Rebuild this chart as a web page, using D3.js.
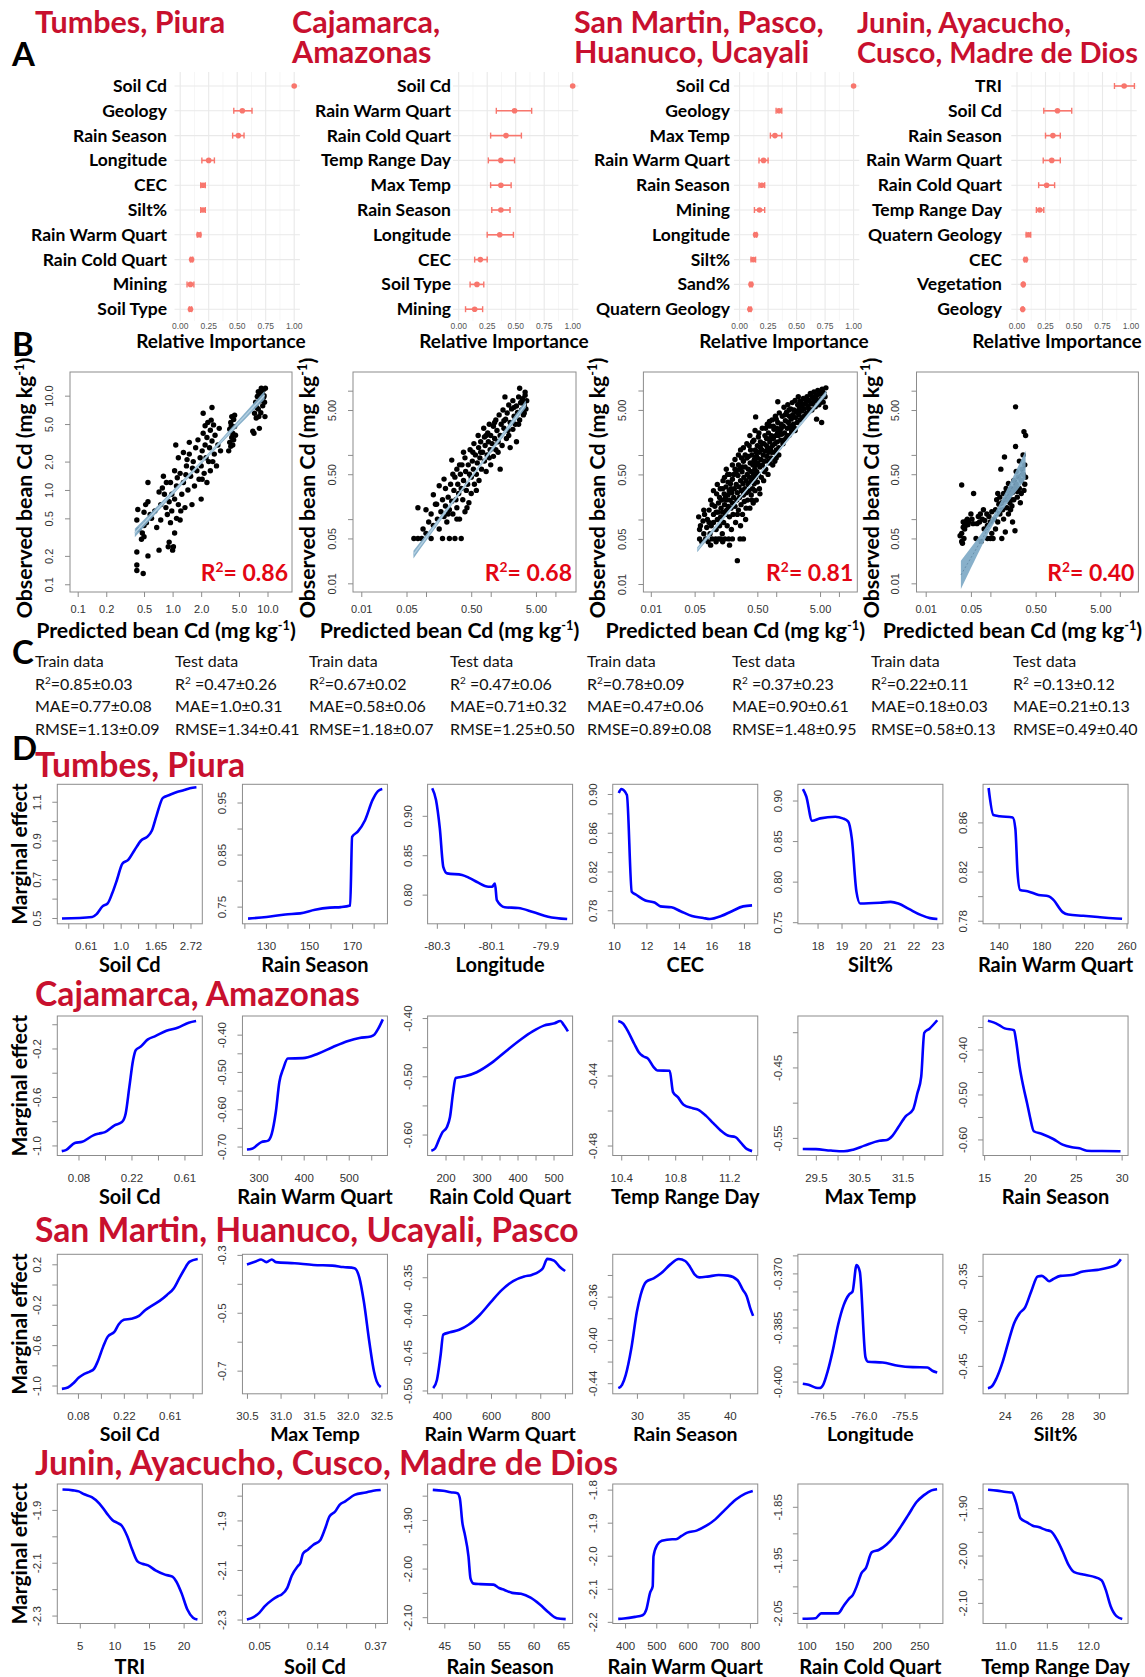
<!DOCTYPE html>
<html>
<head>
<meta charset="utf-8">
<script src="https://cdn.jsdelivr.net/npm/d3@7"></script>
<style>
html, body { margin: 0; padding: 0; background: #fff; }
svg { display: block; }
</style>
</head>
<body>
<svg id="fig" width="1145" height="1677"></svg>
<script>
// ---------- A: relative importance ----------
const titlesA = [["Tumbes, Piura"], ["Cajamarca,", "Amazonas"], ["San Martin, Pasco,", "Huanuco, Ucayali"], ["Junin, Ayacucho,", "Cusco, Madre de Dios"]];

const varsA1 = ["Soil Cd", "Geology", "Rain Season", "Longitude", "CEC", "Silt%", "Rain Warm Quart", "Rain Cold Quart", "Mining", "Soil Type"];
const meanA1 = [1.00, 0.545, 0.51, 0.25, 0.20, 0.20, 0.165, 0.10, 0.09, 0.09];
const loA1   = [1.00, 0.47, 0.46, 0.19, 0.18, 0.18, 0.15, 0.09, 0.06, 0.08];
const hiA1   = [1.00, 0.63, 0.56, 0.30, 0.22, 0.22, 0.18, 0.11, 0.12, 0.10];

const varsA2 = ["Soil Cd", "Rain Warm Quart", "Rain Cold Quart", "Temp Range Day", "Max Temp", "Rain Season", "Longitude", "CEC", "Soil Type", "Mining"];
const meanA2 = [1.00, 0.49, 0.415, 0.37, 0.37, 0.37, 0.36, 0.19, 0.16, 0.14];
const loA2   = [1.00, 0.33, 0.28, 0.26, 0.28, 0.29, 0.25, 0.14, 0.10, 0.06];
const hiA2   = [1.00, 0.64, 0.55, 0.49, 0.46, 0.45, 0.48, 0.25, 0.22, 0.21];

const varsA3 = ["Soil Cd", "Geology", "Max Temp", "Rain Warm Quart", "Rain Season", "Mining", "Longitude", "Silt%", "Sand%", "Quatern Geology"];
const meanA3 = [1.00, 0.345, 0.31, 0.21, 0.195, 0.175, 0.14, 0.12, 0.10, 0.09];
const loA3   = [1.00, 0.32, 0.27, 0.17, 0.17, 0.13, 0.13, 0.10, 0.09, 0.08];
const hiA3   = [1.00, 0.37, 0.37, 0.25, 0.22, 0.22, 0.15, 0.14, 0.11, 0.10];

const varsA4 = ["TRI", "Soil Cd", "Rain Season", "Rain Warm Quart", "Rain Cold Quart", "Temp Range Day", "Quatern Geology", "CEC", "Vegetation", "Geology"];
const meanA4 = [0.94, 0.355, 0.315, 0.305, 0.26, 0.20, 0.10, 0.075, 0.055, 0.05];
const loA4   = [0.855, 0.235, 0.25, 0.23, 0.19, 0.17, 0.08, 0.065, 0.05, 0.045];
const hiA4   = [1.03, 0.48, 0.38, 0.38, 0.33, 0.235, 0.12, 0.085, 0.06, 0.055];

const ticksA = [0, 0.25, 0.5, 0.75, 1];
const tickLabelsA = ["0.00", "0.25", "0.50", "0.75", "1.00"];

// ---------- B: observed vs predicted ----------
const ptsB1 = [[0.42,0.14],[0.42,0.16],[0.49,0.13],[0.42,0.22],[0.55,0.2],[0.42,0.48],[0.43,0.62],[0.44,0.38],[0.47,0.3],[0.5,0.32],[0.5,0.58],[0.52,0.7],[0.53,0.45],[0.55,0.75],[0.55,1.2],[0.5,0.42],[0.58,0.55],[0.6,0.5],[0.48,0.35],
[0.65,0.6],[0.68,0.4],[0.72,0.23],[0.75,0.48],[0.75,0.7],[0.78,1.05],[0.8,1.4],[0.82,0.9],[0.85,0.65],[0.88,0.55],[0.9,0.25],[0.92,0.75],[0.95,0.45],[0.95,1.2],[0.98,0.6],[0.98,0.9],[0.92,0.28],[0.86,1.2],[0.72,0.95],
[1.0,0.23],[1.02,0.25],[1.05,0.35],[1.05,0.8],[1.05,1.6],[1.08,3.0],[1.1,0.5],[1.1,1.1],[1.15,0.7],[1.15,2.2],[1.2,0.48],[1.2,1.5],[1.25,0.9],[1.3,2.5],[1.3,1.2],[1.35,0.65],[1.4,1.8],[1.45,1.0],[1.5,2.4],[1.5,3.2],[1.55,1.4],[1.6,0.7],[1.65,2.0],[1.7,1.1],[1.75,2.8],[1.8,1.6],[1.85,3.4],[1.9,1.3],[1.95,2.2],[1.12,1.35],[1.22,0.6],[1.38,1.45],[1.62,1.7],[1.42,2.1],
[2.0,0.8],[2.0,1.8],[2.05,2.6],[2.1,4.0],[2.1,6.5],[2.15,1.5],[2.2,3.0],[2.2,4.8],[2.25,2.2],[2.3,1.2],[2.3,3.6],[2.35,5.2],[2.4,2.0],[2.45,2.8],[2.5,1.6],[2.5,4.3],[2.6,3.3],[2.6,7.5],[2.7,4.9],[2.75,2.4],[2.8,3.8],[2.9,1.8],[3.0,3.0],[3.1,4.5],[3.2,2.6],[2.55,5.5],[2.05,1.3],[2.65,2.0],
[3.9,2.6],[4.0,3.2],[4.0,4.4],[4.1,5.2],[4.1,2.9],[4.2,3.6],[4.2,6.0],[4.3,4.0],[4.3,3.0],[4.4,5.6],[4.4,3.4],[4.5,4.7],[4.5,6.2],[4.6,3.8],[4.15,4.8],
[7.0,4.2],[7.2,4.0],[7.3,6.5],[7.5,8.5],[7.6,5.8],[7.8,9.8],[8.0,7.2],[8.0,11],[8.2,4.5],[8.3,8.8],[8.4,10.5],[8.5,6.6],[8.6,12],[8.8,9.2],[8.9,7.8],[9.0,11.5],[9.2,10],[9.3,8.5],[9.5,12],[9.4,6.0],[8.1,6.0],[7.7,7.5],[8.7,10.8],[9.1,9.6]];

const ptsB2 = [[0.065,0.05],[0.075,0.05],[0.086,0.05],[0.075,0.15],[0.09,0.07],[0.1,0.06],[0.11,0.09],[0.12,0.05],[0.12,0.12],[0.13,0.08],[0.14,0.17],[0.146,0.17],[0.15,0.1],[0.16,0.07],[0.17,0.13],[0.18,0.05],[0.18,0.2],[0.19,0.11],[0.2,0.16],[0.2,0.3],[0.21,0.09],[0.22,0.22],[0.23,0.05],[0.23,0.14],[0.24,0.35],[0.25,0.83],[0.25,0.19],[0.26,0.12],[0.27,0.28],[0.28,0.05],[0.28,0.45],[0.29,0.2],[0.3,0.15],[0.3,0.6],[0.31,0.35],[0.32,0.25],[0.33,0.1],[0.34,0.5],[0.35,0.05],[0.35,0.3],[0.36,0.7],[0.37,0.2],[0.38,0.4],[0.4,0.13],[0.4,0.9],[0.41,0.55],[0.42,0.28],[0.44,0.35],[0.45,0.7],[0.46,0.18],[0.48,1.2],[0.5,0.45],[0.5,0.25],[0.52,0.8],[0.54,0.6],[0.55,1.5],[0.56,0.35],[0.58,1.0],[0.6,0.5],[0.62,0.75],[0.64,2.0],[0.65,1.3],[0.66,0.4],[0.68,0.9],[0.7,1.6],[0.72,0.6],[0.75,1.1],[0.78,2.6],[0.8,0.8],[0.8,1.9],[0.82,1.4],[0.85,0.55],[0.88,1.0],[0.9,2.2],[0.92,1.6],[0.95,3.0],[0.98,1.2],[1.0,0.7],[1.0,2.0],[1.05,1.5],[1.1,2.8],[1.1,0.95],[1.15,1.8],[1.2,3.5],[1.2,1.2],[1.25,2.4],[1.3,1.6],[1.35,4.2],[1.4,0.6],[1.4,2.0],[1.45,3.0],[1.5,1.4],[1.55,5.0],[1.6,2.6],[1.66,8.0],[1.7,3.6],[1.75,1.8],[1.8,4.5],[1.85,2.4],[1.9,6.0],[2.0,3.2],[2.0,1.3],[2.1,5.2],[2.2,2.5],[2.2,7.0],[2.3,4.0],[2.4,3.0],[2.5,5.8],[2.5,1.6],[2.6,4.6],[2.7,8.0],[2.8,10.9],[2.8,3.5],[2.9,6.5],[3.0,5.0],[3.1,7.5],[3.2,4.2],[3.3,6.0],[3.4,8.5],[3.5,5.2],[3.6,7.0],[3.4,9.5],
[0.1,0.14],[0.13,0.24],[0.16,0.33],[0.19,0.42],[0.22,0.12],[0.26,0.5],[0.3,0.1],[0.33,0.7],[0.38,1.1],[0.43,0.15],[0.47,0.5],[0.53,1.1],[0.6,0.28],[0.7,1.1],[0.85,2.0],[0.95,0.9],[1.15,3.2],[1.3,1.1],[1.6,3.4],[1.9,2.0],[2.3,5.5],[2.7,3.0],[3.0,6.6],[3.3,4.5]];

const ptsB3 = [[0.058,0.11],[0.06,0.05],[0.062,0.08],[0.065,0.045],[0.068,0.095],[0.07,0.06],[0.072,0.12],[0.075,0.05],[0.078,0.075],
[0.08,0.1],[0.082,0.045],[0.085,0.14],[0.088,0.06],[0.09,0.2],[0.092,0.08],[0.095,0.05],[0.1,0.12],[0.1,0.09],[0.105,0.16],[0.108,0.05],[0.11,0.07],[0.112,0.25],[0.115,0.1],[0.118,0.13],[0.12,0.05],[0.12,0.18],
[0.125,0.08],[0.128,0.3],[0.13,0.11],[0.132,0.15],[0.135,0.2],[0.138,0.06],[0.14,0.13],[0.142,0.4],[0.145,0.09],[0.148,0.25],[0.15,0.17],[0.152,0.05],[0.155,0.12],[0.158,0.32],[0.16,0.2],[0.162,0.14],[0.165,0.08],[0.168,0.5],[0.17,0.24],[0.172,0.16],[0.175,0.05],[0.178,0.28],[0.18,0.11],[0.183,0.2],[0.186,0.36],[0.19,0.15],[0.193,0.07],[0.196,0.26],[0.2,0.18],
[0.2,0.42],[0.205,0.12],[0.21,0.22],[0.215,0.3],[0.22,0.16],[0.22,0.6],[0.225,0.09],[0.23,0.35],[0.235,0.2],[0.24,0.023],[0.24,0.26],[0.245,0.48],[0.25,0.14],[0.25,0.7],[0.255,0.32],[0.26,0.22],[0.265,0.05],[0.27,1.2],[0.27,0.4],[0.275,0.17],[0.28,0.28],[0.285,0.55],[0.29,0.12],[0.295,0.36],[0.3,0.24],[0.3,0.8],[0.305,0.45],[0.31,0.19],[0.315,0.3],[0.32,0.65],[0.325,0.1],[0.33,0.4],[0.335,0.26],[0.34,0.9],[0.345,0.5],[0.35,0.2],
[0.355,0.35],[0.36,0.6],[0.365,0.28],[0.37,1.4],[0.375,0.45],[0.38,0.15],[0.385,0.75],[0.39,0.38],[0.4,0.55],[0.4,0.24],[0.41,1.0],[0.415,0.42],[0.42,0.3],[0.425,0.7],[0.43,0.18],[0.435,0.5],[0.44,1.7],[0.445,0.36],[0.45,0.85],[0.455,0.6],[0.46,0.28],[0.465,1.2],[0.47,3.9],[0.47,0.45],[0.475,0.7],[0.48,0.2],[0.485,0.95],[0.49,0.55],[0.5,1.4],[0.5,0.38],[0.51,0.75],[0.52,0.5],[0.53,2.2],[0.535,1.1],[0.54,0.3],[0.55,0.65],[0.56,1.6],[0.57,0.85],[0.58,0.45],[0.59,1.2],[0.6,2.6],
[0.6,0.7],[0.62,1.0],[0.63,0.4],[0.64,1.5],[0.65,0.8],[0.66,2.0],[0.67,1.15],[0.68,0.6],[0.7,1.8],[0.71,0.95],[0.72,3.0],[0.73,1.3],[0.74,0.5],[0.75,2.2],[0.76,1.1],[0.78,0.75],[0.79,1.6],[0.8,2.8],[0.81,1.25],[0.83,0.9],[0.84,2.0],[0.86,3.5],[0.87,1.4],[0.88,0.7],[0.9,1.8],[0.92,2.5],[0.93,1.1],[0.95,1.5],[0.97,4.0],[0.98,2.0],[1.0,1.2],[1.0,0.9],[1.02,2.6],[1.04,1.6],[1.06,6.7],[1.06,3.2],[1.08,2.0],[1.1,1.3],[1.12,4.5],[1.15,2.4],[1.18,1.7],[1.2,3.0],
[1.22,2.1],[1.25,4.0],[1.28,1.5],[1.3,2.8],[1.33,5.5],[1.36,2.2],[1.4,3.4],[1.43,1.8],[1.46,4.6],[1.5,2.6],[1.53,6.0],[1.56,3.2],[1.6,2.0],[1.63,4.0],[1.66,2.8],[1.7,5.2],[1.73,3.6],[1.76,2.3],[1.8,6.5],[1.84,4.2],[1.88,3.0],[1.92,5.0],[1.96,2.6],[2.0,7.0],[2.05,3.8],[2.1,4.6],[2.15,3.2],[2.2,6.0],[2.25,8.0],[2.3,4.2],[2.35,5.5],[2.4,3.5],[2.5,6.5],[2.55,4.8],[2.6,3.8],[2.7,7.5],[2.8,5.2],[2.9,6.2],[3.0,4.4],
[3.1,8.0],[3.2,5.8],[3.3,7.0],[3.4,4.8],[3.5,9.0],[3.6,6.2],[3.7,5.0],[3.8,7.8],[3.9,6.6],[4.0,9.5],[4.2,5.6],[4.3,8.2],[4.5,7.0],[4.6,10.0],[4.8,6.0],[5.0,8.8],[5.2,7.4],[5.4,10.5],[5.6,6.6],[5.8,9.0],[6.0,8.0],[6.2,11.0],[6.1,5.5],[5.3,3.2],[4.4,3.6],
[0.07,0.14],[0.085,0.09],[0.095,0.17],[0.1,0.28],[0.11,0.13],[0.115,0.35],[0.125,0.22],[0.13,0.05],[0.14,0.3],[0.15,0.45],[0.155,0.22],[0.16,0.6],[0.17,0.38],[0.18,0.5],[0.19,0.3],[0.2,0.7],[0.21,0.5],[0.22,0.85],[0.23,0.55],[0.24,0.12],[0.25,1.0],[0.26,0.6],[0.27,0.08],[0.28,0.9],[0.29,0.65],[0.3,1.3],[0.32,1.0],[0.33,0.15],[0.34,1.5],[0.36,0.95],[0.38,2.0],[0.39,1.2],[0.41,0.2],[0.42,1.6],[0.44,0.8],[0.46,2.4],[0.48,1.1],[0.5,0.9],[0.52,1.9],[0.55,0.25],[0.56,1.3],[0.6,1.5],[0.65,0.55],[0.68,2.6],[0.7,1.4],[0.75,0.8],[0.78,3.3],[0.8,1.8],[0.85,1.1],[0.9,2.8],[0.95,0.8],[1.0,3.6],[1.05,2.2],[1.1,1.0],[1.2,2.6],[1.3,1.7],[1.4,4.2],[1.5,2.0],[1.6,5.0],[1.7,2.6],[1.8,3.8],[2.0,2.4],[2.2,4.8],[2.4,6.8],[2.6,5.8],[2.8,4.0],[3.0,7.0],[3.3,5.2],[3.6,8.5],[4.0,7.2],[4.5,8.5],[5.0,6.5],[5.5,9.5],[0.06,0.07],[0.09,0.04],[0.11,0.045],[0.14,0.045],[0.18,0.04],[0.2,0.05],[0.3,0.05]];

const ptsB4 = [[0.034,0.055],[0.036,0.045],[0.037,0.042],[0.038,0.075],[0.038,0.09],[0.04,0.085],[0.04,0.07],[0.036,0.34],[0.042,0.08],[0.043,0.095],[0.044,0.1],[0.045,0.082],[0.046,0.09],[0.055,0.25],[0.05,0.12],[0.052,0.1],[0.054,0.085],[0.039,0.05],[0.036,0.06],
[0.06,0.05],[0.062,0.085],[0.065,0.11],[0.068,0.09],[0.07,0.12],[0.072,0.045],[0.075,0.1],[0.078,0.14],[0.08,0.07],[0.082,0.095],[0.09,0.05],[0.088,0.12],[0.09,0.08],[0.1,0.05],[0.095,0.11],[0.1,0.09],[0.105,0.06],[0.105,0.13],[0.11,0.05],[0.115,0.1],[0.12,0.07],
[0.12,0.14],[0.125,0.2],[0.13,0.09],[0.13,0.25],[0.135,0.17],[0.14,0.12],[0.14,0.22],[0.145,0.6],[0.15,0.18],[0.15,0.05],[0.155,0.14],[0.16,0.25],[0.16,0.1],[0.165,0.93],[0.17,0.2],[0.17,0.063],[0.175,0.3],[0.18,0.15],[0.18,0.28],[0.185,0.22],[0.19,0.12],[0.19,0.36],[0.2,0.18],[0.2,0.25],[0.205,0.14],[0.21,0.3],[0.21,0.2],[0.215,0.16],[0.22,0.09],[0.22,0.26],
[0.23,0.4],[0.23,0.2],[0.24,0.3],[0.24,0.066],[0.245,5.6],[0.245,1.35],[0.25,0.55],[0.25,0.35],[0.26,0.22],[0.26,0.27],[0.27,0.45],[0.28,0.8],[0.28,0.3],[0.29,0.18],[0.3,0.4],[0.3,0.25],[0.31,0.6],[0.32,1.0],[0.32,0.5],[0.33,2.3],[0.34,0.35],[0.35,2.0],[0.35,0.45],[0.34,0.7],[0.33,0.28]];

// fitted line ends (predicted, observed) and CI half widths in decades [middle, ends]
const fitPredB = [[0.4, 9.3], [0.064, 3.5], [0.055, 6.3], [0.035, 0.35]];
const fitObsB  = [[0.35, 10.1], [0.028, 6.2], [0.034, 9.2], [0.0135, 0.70]];
const fitCiB   = [[0.018, 0.045], [0.025, 0.06], [0.015, 0.04], [0.07, 0.22]];
const r2B = ["0.86", "0.68", "0.81", "0.40"];

const ticksB1 = [0.1, 0.2, 0.5, 1, 2, 5, 10];
const tickLabelsB1 = ["0.1", "0.2", "0.5", "1.0", "2.0", "5.0", "10.0"];
const ticksB = [0.01, 0.05, 0.1, 0.5, 1, 5, 10];
const tickLabelsB = ["0.01", "0.05", "", "0.50", "", "5.00", ""];

// ---------- C: model statistics ----------
const headC = ["Train data", "Test data", "Train data", "Test data", "Train data", "Test data", "Train data", "Test data"];
const r2C   = ["=0.85±0.03", " =0.47±0.26", "=0.67±0.02", " =0.47±0.06", "=0.78±0.09", " =0.37±0.23", "=0.22±0.11", " =0.13±0.12"];
const maeC  = ["0.77±0.08", "1.0±0.31", "0.58±0.06", "0.71±0.32", "0.47±0.06", "0.90±0.61", "0.18±0.03", "0.21±0.13"];
const rmseC = ["1.13±0.09", "1.34±0.41", "1.18±0.07", "1.25±0.50", "0.89±0.08", "1.48±0.95", "0.58±0.13", "0.49±0.40"];

// ---------- D: marginal effects ----------
const rowTitlesD = ["Tumbes, Piura", "Cajamarca, Amazonas", "San Martin, Huanuco, Ucayali, Pasco", "Junin, Ayacucho, Cusco, Madre de Dios"];
const namesD = [
  ["Soil Cd", "Rain Season", "Longitude", "CEC", "Silt%", "Rain Warm Quart"],
  ["Soil Cd", "Rain Warm Quart", "Rain Cold Quart", "Temp Range Day", "Max Temp", "Rain Season"],
  ["Soil Cd", "Max Temp", "Rain Warm Quart", "Rain Season", "Longitude", "Silt%"],
  ["TRI", "Soil Cd", "Rain Season", "Rain Warm Quart", "Rain Cold Quart", "Temp Range Day"]
];

// Soil Cd curves use ln(Soil Cd) on x
const r1SoilCd = [[-0.84,0.497],[-0.407,0.505],[-0.344,0.52],[-0.26,0.56],[-0.186,0.575],[-0.118,0.63],[-0.05,0.70],[0.024,0.78],[0.108,0.80],[0.198,0.85],[0.293,0.90],[0.383,0.92],[0.446,0.95],[0.515,1.03],[0.605,1.12],[0.70,1.135],[0.806,1.15],[0.91,1.16],[0.99,1.17],[1.085,1.175]];
const r1RainSeason = [[121.7,0.727],[130.3,0.730],[139,0.735],[145.9,0.737],[152.8,0.744],[159.7,0.748],[164.8,0.749],[169.1,0.752],[170,0.884],[172.6,0.894],[176,0.916],[179.5,0.955],[182,0.972],[184,0.976]];
const r1Longitude = [[-80.317,0.935],[-80.303,0.92],[-80.289,0.884],[-80.276,0.835],[-80.262,0.827],[-80.207,0.825],[-80.179,0.821],[-80.152,0.816],[-80.11,0.81],[-80.097,0.81],[-80.086,0.814],[-80.079,0.793],[-80.05,0.784],[-80.0,0.783],[-79.946,0.778],[-79.89,0.772],[-79.82,0.769]];
const r1CEC = [[10.3,0.901],[10.46,0.905],[10.8,0.899],[11.1,0.799],[11.37,0.796],[11.94,0.79],[12.5,0.788],[12.86,0.784],[13.54,0.783],[14.1,0.779],[14.8,0.774],[15.5,0.772],[15.9,0.771],[16.6,0.774],[17.26,0.779],[17.95,0.784],[18.5,0.785]];
const r1Silt = [[17.39,0.914],[17.53,0.905],[17.77,0.875],[18.11,0.878],[18.74,0.880],[19.05,0.878],[19.28,0.874],[19.43,0.853],[19.62,0.788],[19.78,0.773],[20.6,0.774],[21.05,0.775],[21.37,0.773],[21.83,0.766],[22.3,0.759],[22.69,0.755],[23.0,0.754]];
const r1RWQ = [[130.6,0.888],[135.1,0.866],[141,0.865],[153.2,0.864],[155.7,0.855],[157.7,0.82],[160.2,0.805],[167.1,0.804],[177.5,0.801],[186.9,0.80],[191.4,0.797],[200.1,0.787],[205.3,0.785],[219.3,0.784],[233.2,0.783],[247.1,0.782],[255.8,0.7816]];

const r2SoilCd = [[-2.816,-1.047],[-2.73,-1.036],[-2.57,-0.98],[-2.43,-0.97],[-2.22,-0.917],[-2.12,-0.903],[-2.0,-0.89],[-1.82,-0.834],[-1.68,-0.807],[-1.61,-0.738],[-1.54,-0.517],[-1.47,-0.297],[-1.42,-0.214],[-1.33,-0.186],[-1.19,-0.125],[-1.05,-0.098],[-0.84,-0.054],[-0.63,-0.029],[-0.42,0.012],[-0.28,0.026]];
const r2RWQ = [[274,-0.708],[285,-0.706],[306,-0.688],[321,-0.684],[329,-0.666],[338,-0.608],[346,-0.527],[354.6,-0.491],[364.6,-0.464],[398,-0.463],[431.6,-0.451],[465,-0.433],[498.7,-0.417],[523.8,-0.409],[549,-0.405],[557,-0.40],[565.6,-0.384],[575.7,-0.359]];
const r2RCQ = [[160.6,-0.628],[171,-0.624],[181,-0.61],[191.7,-0.596],[204,-0.587],[212.4,-0.57],[220.8,-0.529],[228,-0.503],[254,-0.50],[286.5,-0.493],[328,-0.477],[369.5,-0.456],[411,-0.436],[442,-0.423],[473,-0.413],[503,-0.409],[519,-0.405],[529.6,-0.413],[540,-0.423]];
const r2TRD = [[10.378,-0.4089],[10.414,-0.4104],[10.453,-0.4152],[10.497,-0.422],[10.53,-0.4267],[10.563,-0.429],[10.6,-0.4305],[10.64,-0.4352],[10.668,-0.4371],[10.759,-0.4373],[10.784,-0.4495],[10.82,-0.4524],[10.862,-0.4567],[10.93,-0.4587],[10.972,-0.4596],[11.027,-0.4629],[11.082,-0.4672],[11.137,-0.4714],[11.19,-0.4743],[11.247,-0.4752],[11.288,-0.4785],[11.33,-0.4819],[11.37,-0.4832]];
const r2MaxTemp = [[29.198,-0.5657],[29.5,-0.566],[29.845,-0.568],[30.147,-0.569],[30.36,-0.5667],[30.62,-0.561],[30.966,-0.554],[31.14,-0.5529],[31.27,-0.5467],[31.4,-0.535],[31.57,-0.5195],[31.74,-0.51],[31.84,-0.487],[31.93,-0.463],[32.0,-0.401],[32.12,-0.395],[32.3,-0.383]];
const r2RainSeason = [[15.41,-0.336],[16.02,-0.3397],[16.63,-0.3457],[17.24,-0.353],[18.26,-0.357],[18.47,-0.379],[18.87,-0.4387],[19.28,-0.483],[19.69,-0.52],[20.0,-0.55],[20.42,-0.5818],[21.32,-0.5877],[22.54,-0.599],[23.56,-0.6115],[24.58,-0.6175],[25.4,-0.6197],[26.2,-0.625],[27.85,-0.6257],[29.88,-0.6264]];

const r3SoilCd = [[-2.85,-1.033],[-2.72,-1.02],[-2.6,-0.977],[-2.48,-0.921],[-2.36,-0.885],[-2.24,-0.862],[-2.15,-0.835],[-2.07,-0.763],[-1.95,-0.615],[-1.85,-0.516],[-1.70,-0.466],[-1.61,-0.393],[-1.5,-0.35],[-1.34,-0.339],[-1.17,-0.311],[-1.03,-0.252],[-0.885,-0.209],[-0.72,-0.162],[-0.56,-0.103],[-0.41,-0.037],[-0.31,0.045],[-0.19,0.144],[-0.065,0.226],[0.11,0.253]];
const r3MaxTemp = [[30.5,-0.333],[30.63,-0.323],[30.71,-0.316],[30.79,-0.325],[30.87,-0.316],[30.93,-0.325],[31.21,-0.329],[31.49,-0.335],[31.77,-0.337],[31.93,-0.342],[32.1,-0.346],[32.17,-0.377],[32.24,-0.463],[32.32,-0.6],[32.39,-0.703],[32.43,-0.737],[32.49,-0.757]];
const r3RWQ = [[365.3,-0.497],[380.4,-0.486],[395.5,-0.453],[406,-0.426],[433.2,-0.423],[471,-0.4196],[508.7,-0.413],[554,-0.40],[599.2,-0.383],[644.5,-0.3668],[689.8,-0.355],[735,-0.349],[765.3,-0.3469],[795.5,-0.3425],[810.6,-0.338],[828.7,-0.3257],[855.8,-0.328],[878.5,-0.336],[901.1,-0.3417]];
const r3RainSeason = [[28.0,-0.4446],[28.4,-0.4415],[28.8,-0.4323],[29.4,-0.4077],[30.0,-0.3738],[30.4,-0.3585],[31.0,-0.3462],[31.8,-0.3431],[32.6,-0.3385],[33.6,-0.3302],[34.5,-0.3252],[35.2,-0.3271],[35.7,-0.3323],[36.2,-0.3394],[36.7,-0.3422],[37.6,-0.3415],[38.8,-0.34],[39.8,-0.3406],[40.8,-0.3446],[41.4,-0.3538],[41.8,-0.3594],[42.2,-0.3708],[42.5,-0.3778]];
const r3Longitude = [[-76.75,-0.4006],[-76.68,-0.4009],[-76.59,-0.4017],[-76.546,-0.4018],[-76.5,-0.4009],[-76.445,-0.3972],[-76.385,-0.3917],[-76.317,-0.3843],[-76.248,-0.3788],[-76.18,-0.3758],[-76.14,-0.3751],[-76.09,-0.3677],[-76.05,-0.3695],[-75.98,-0.3933],[-75.95,-0.3945],[-75.77,-0.3947],[-75.58,-0.3956],[-75.4,-0.396],[-75.22,-0.3961],[-75.16,-0.397],[-75.1,-0.3975]];
const r3Silt = [[22.93,-0.4748],[23.17,-0.473],[23.48,-0.4637],[23.88,-0.445],[24.24,-0.423],[24.6,-0.4026],[24.95,-0.3915],[25.3,-0.385],[25.7,-0.3667],[26.1,-0.3507],[26.36,-0.35],[26.6,-0.3526],[26.83,-0.356],[27.07,-0.3537],[27.55,-0.35],[28.26,-0.349],[28.98,-0.3452],[29.93,-0.3433],[30.64,-0.3407],[31.1,-0.3378],[31.4,-0.3315]];

const r4TRI = [[2.5,-1.823],[4.02,-1.826],[4.84,-1.83],[5.65,-1.841],[6.73,-1.852],[7.8,-1.875],[8.9,-1.913],[9.7,-1.938],[10.5,-1.95],[11.07,-1.96],[11.88,-2.001],[12.58,-2.051],[13.34,-2.095],[14.04,-2.104],[14.86,-2.11],[15.94,-2.129],[17.3,-2.145],[18.38,-2.153],[18.92,-2.17],[19.73,-2.217],[20.54,-2.277],[21.36,-2.308],[22.0,-2.315]];
const r4SoilCd = [[-3.213,-2.3],[-3.097,-2.29],[-3.0,-2.273],[-2.903,-2.246],[-2.774,-2.22],[-2.677,-2.206],[-2.613,-2.199],[-2.516,-2.172],[-2.439,-2.123],[-2.335,-2.085],[-2.29,-2.072],[-2.245,-2.034],[-2.161,-2.018],[-2.065,-1.998],[-1.948,-1.98],[-1.871,-1.938],[-1.787,-1.884],[-1.69,-1.864],[-1.613,-1.837],[-1.516,-1.823],[-1.355,-1.797],[-1.161,-1.787],[-1.032,-1.78],[-0.903,-1.777]];
const r4RainSeason = [[43.06,-1.838],[44.8,-1.840],[46.06,-1.843],[47.2,-1.845],[47.6,-1.855],[48.05,-1.907],[48.4,-1.927],[49.06,-1.975],[49.4,-2.02],[49.94,-2.031],[51.06,-2.032],[53.25,-2.033],[54.2,-2.04],[55.1,-2.044],[56.4,-2.05],[57.9,-2.052],[59.5,-2.06],[61.06,-2.074],[62.6,-2.091],[63.9,-2.102],[65.4,-2.104]];
const r4RWQ = [[378,-2.191],[396,-2.190],[432,-2.185],[456,-2.18],[468,-2.163],[480,-2.112],[488.5,-2.092],[491,-2.002],[503,-1.967],[517.4,-1.955],[551,-1.95],[563,-1.95],[581,-1.94],[599,-1.93],[629,-1.924],[659,-1.91],[689,-1.89],[719,-1.862],[755,-1.83],[785,-1.812],[809,-1.804]];
const r4RCQ = [[94.7,-2.061],[112,-2.06],[119.4,-2.051],[141.8,-2.051],[149.3,-2.037],[156.7,-2.023],[161.7,-2.016],[166.7,-2.0],[173.1,-1.975],[179.1,-1.965],[186.6,-1.936],[196.5,-1.931],[206.5,-1.921],[216.4,-1.906],[226.4,-1.885],[236.3,-1.863],[246.3,-1.841],[256.2,-1.828],[266.2,-1.819],[273.6,-1.817]];
const r4TRD = [[10.79,-1.861],[10.9,-1.863],[11.01,-1.866],[11.08,-1.867],[11.13,-1.889],[11.18,-1.921],[11.26,-1.93],[11.33,-1.937],[11.4,-1.94],[11.49,-1.946],[11.55,-1.949],[11.62,-1.966],[11.69,-1.991],[11.76,-2.019],[11.83,-2.035],[11.94,-2.04],[12.05,-2.044],[12.16,-2.052],[12.21,-2.072],[12.27,-2.107],[12.34,-2.128],[12.41,-2.134]];

// axis setup for each D panel: x domain, y domain, x ticks/labels, y ticks/labels
const axesD = [
  [
    {xd:[-0.907,1.169], yd:[0.47,1.19], xt:[-0.75,-0.5,-0.25,0,0.25,0.5,0.75,1], xl:["","0.61","","1.0","","1.65","","2.72"], yt:[0.5,0.6,0.7,0.8,0.9,1.0,1.1], yl:["0.5","","0.7","","0.9","","1.1"]},
    {xd:[119.1,186.4], yd:[0.717,0.985], xt:[120,130,140,150,160,170,180], xl:["","130","","150","","170",""], yt:[0.75,0.80,0.85,0.90,0.95], yl:["0.75","","0.85","","0.95"]},
    {xd:[-80.334,-79.80], yd:[0.763,0.94], xt:[-80.3,-80.2,-80.1,-80.0,-79.9], xl:["-80.3","","-80.1","","-79.9"], yt:[0.80,0.85,0.90], yl:["0.80","0.85","0.90"]},
    {xd:[9.93,18.85], yd:[0.766,0.910], xt:[10,12,14,16,18], xl:["10","12","14","16","18"], yt:[0.78,0.80,0.82,0.84,0.86,0.88,0.90], yl:["0.78","","0.82","","0.86","","0.90"]},
    {xd:[17.18,23.23], yd:[0.748,0.92], xt:[18,19,20,21,22,23], xl:["18","19","20","21","22","23"], yt:[0.75,0.80,0.85,0.90], yl:["0.75","0.80","0.85","0.90"]},
    {xd:[125.4,261.4], yd:[0.7775,0.891], xt:[140,160,180,200,220,240,260], xl:["140","","180","","220","","260"], yt:[0.78,0.80,0.82,0.84,0.86], yl:["0.78","","0.82","","0.86"]}
  ],
  [
    {xd:[-2.9,-0.163], yd:[-1.083,0.068], xt:[-2.5,-2,-1.5,-1,-0.5], xl:["0.08","","0.22","","0.61"], yt:[-1.0,-0.8,-0.6,-0.4,-0.2,0.0], yl:["-1.0","","-0.6","","-0.2",""]},
    {xd:[264,586], yd:[-0.724,-0.35], xt:[300,350,400,450,500,550], xl:["300","","400","","500",""], yt:[-0.70,-0.65,-0.60,-0.55,-0.50,-0.45,-0.40], yl:["-0.70","","-0.60","","-0.50","","-0.40"]},
    {xd:[150.2,553], yd:[-0.636,-0.3965], xt:[200,250,300,350,400,450,500], xl:["200","","300","","400","","500"], yt:[-0.60,-0.55,-0.50,-0.45,-0.40], yl:["-0.60","","-0.50","","-0.40"]},
    {xd:[10.337,11.412], yd:[-0.4857,-0.406], xt:[10.4,10.6,10.8,11.0,11.2,11.4], xl:["10.4","","10.8","","11.2",""], yt:[-0.48,-0.46,-0.44,-0.42], yl:["-0.48","","-0.44",""]},
    {xd:[29.086,32.43], yd:[-0.575,-0.377], xt:[29.5,30,30.5,31,31.5,32], xl:["29.5","","30.5","","31.5",""], yt:[-0.55,-0.50,-0.45,-0.40], yl:["-0.55","","-0.45",""]},
    {xd:[14.88,30.7], yd:[-0.6357,-0.3255], xt:[15,20,25,30], xl:["15","20","25","30"], yt:[-0.60,-0.55,-0.50,-0.45,-0.40,-0.35], yl:["-0.60","","-0.50","","-0.40",""]}
  ],
  [
    {xd:[-2.95,0.21], yd:[-1.082,0.299], xt:[-2.5,-2,-1.5,-1,-0.5,0], xl:["0.08","","0.22","","0.61",""], yt:[-1.0,-0.8,-0.6,-0.4,-0.2,0.0,0.2], yl:["-1.0","","-0.6","","-0.2","","0.2"]},
    {xd:[30.433,32.59], yd:[-0.78,-0.298], xt:[30.5,31,31.5,32,32.5], xl:["30.5","31.0","31.5","32.0","32.5"], yt:[-0.7,-0.6,-0.5,-0.4,-0.3], yl:["-0.7","","-0.5","","-0.3"]},
    {xd:[342.6,931.3], yd:[-0.5044,-0.3196], xt:[400,500,600,700,800,900], xl:["400","","600","","800",""], yt:[-0.50,-0.45,-0.40,-0.35], yl:["-0.50","-0.45","-0.40","-0.35"]},
    {xd:[27.4,43.0], yd:[-0.4498,-0.3209], xt:[30,35,40], xl:["30","35","40"], yt:[-0.44,-0.42,-0.40,-0.38,-0.36,-0.34], yl:["-0.44","","-0.40","","-0.36",""]},
    {xd:[-76.81,-75.03], yd:[-0.4034,-0.3647], xt:[-76.5,-76.0,-75.5], xl:["-76.5","-76.0","-75.5"], yt:[-0.400,-0.395,-0.390,-0.385,-0.380,-0.375,-0.370,-0.365], yl:["-0.400","","","-0.385","","","-0.370",""]},
    {xd:[22.62,31.86], yd:[-0.481,-0.326], xt:[24,26,28,30], xl:["24","26","28","30"], yt:[-0.45,-0.40,-0.35], yl:["-0.45","-0.40","-0.35"]}
  ],
  [
    {xd:[1.75,22.7], yd:[-2.33,-1.802], xt:[5,10,15,20], xl:["5","10","15","20"], yt:[-2.3,-2.2,-2.1,-2.0,-1.9], yl:["-2.3","","-2.1","","-1.9"]},
    {xd:[-3.29,-0.787], yd:[-2.316,-1.753], xt:[-3,-2.5,-2,-1.5,-1], xl:["0.05","","0.14","","0.37"], yt:[-2.3,-2.2,-2.1,-2.0,-1.9,-1.8], yl:["-2.3","","-2.1","","-1.9",""]},
    {xd:[42.19,66.56], yd:[-2.113,-1.826], xt:[45,50,55,60,65], xl:["45","50","55","60","65"], yt:[-2.10,-2.05,-2.00,-1.95,-1.90,-1.85], yl:["-2.10","","-2.00","","-1.90",""]},
    {xd:[360.5,825], yd:[-2.205,-1.783], xt:[400,500,600,700,800], xl:["400","500","600","700","800"], yt:[-2.2,-2.1,-2.0,-1.9,-1.8], yl:["-2.2","-2.1","-2.0","-1.9","-1.8"]},
    {xd:[88.6,281.3], yd:[-2.07,-1.807], xt:[100,150,200,250], xl:["100","150","200","250"], yt:[-2.05,-2.00,-1.95,-1.90,-1.85], yl:["-2.05","","-1.95","","-1.85"]},
    {xd:[10.73,12.48], yd:[-2.1435,-1.849], xt:[11.0,11.5,12.0], xl:["11.0","11.5","12.0"], yt:[-2.10,-2.05,-2.00,-1.95,-1.90], yl:["-2.10","","-2.00","","-1.90"]}
  ]
];
const curvesD = [
  [r1SoilCd, r1RainSeason, r1Longitude, r1CEC, r1Silt, r1RWQ],
  [r2SoilCd, r2RWQ, r2RCQ, r2TRD, r2MaxTemp, r2RainSeason],
  [r3SoilCd, r3MaxTemp, r3RWQ, r3RainSeason, r3Longitude, r3Silt],
  [r4TRI, r4SoilCd, r4RainSeason, r4RWQ, r4RCQ, r4TRD]
];

// ---------- drawing ----------
const svg = d3.select("#fig");
const RED = "#c8102e";
const BOLD = "Lato, 'Open Sans', sans-serif";
const RFONT = "'Liberation Sans', Arial, sans-serif";
const AXC = "#8c8c8c";

function label(g, x, y, s, size, anchor, color) {
  return g.append("text").attr("x", x).attr("y", y).text(s)
    .attr("font-family", BOLD).attr("font-weight", 700).attr("font-size", size)
    .attr("text-anchor", anchor || "start").attr("fill", color || "#000");
}

// panel letters
[["A", 66], ["B", 356], ["C", 664], ["D", 760]].forEach(([s, y]) => label(svg, 12, y, s, 33));

// ===== A =====
const panelsA = [
  {title: titlesA[0], vars: varsA1, mean: meanA1, lo: loA1, hi: hiA1, x0: 180.2, labelRight: 167, titleX: 35, axisX: 221},
  {title: titlesA[1], vars: varsA2, mean: meanA2, lo: loA2, hi: hiA2, x0: 458.7, labelRight: 451, titleX: 292, axisX: 504},
  {title: titlesA[2], vars: varsA3, mean: meanA3, lo: loA3, hi: hiA3, x0: 739.6, labelRight: 730, titleX: 574, axisX: 784},
  {title: titlesA[3], vars: varsA4, mean: meanA4, lo: loA4, hi: hiA4, x0: 1017, labelRight: 1002, titleX: 857, axisX: 1057}
];
const unitA = 114, topA = 72, botA = 321;
panelsA.forEach((p, k) => {
  const g = svg.append("g");
  p.title.forEach((t, i) => label(g, p.titleX, 33 + i * 29.5, t, k === 3 ? 29 : 30.5, "start", RED));
  const x = d3.scaleLinear().domain([-0.05, 1.05]).range([p.x0 - 0.05 * unitA, p.x0 + 1.05 * unitA]);
  const y = d3.scalePoint().domain(p.vars).range([86, 309.2]);
  d3.range(0, 1.0001, 0.125).forEach((v, i) => {
    g.append("line").attr("x1", x(v)).attr("x2", x(v)).attr("y1", topA).attr("y2", botA)
      .attr("stroke", i % 2 ? "#f4f4f4" : "#e9e9e9").attr("stroke-width", i % 2 ? 0.8 : 1.1);
  });
  p.vars.forEach(v => {
    g.append("line").attr("x1", x(-0.05)).attr("x2", x(1.05)).attr("y1", y(v)).attr("y2", y(v))
      .attr("stroke", "#e9e9e9").attr("stroke-width", 1.1);
  });
  ticksA.forEach((v, i) => {
    g.append("text").attr("x", x(v)).attr("y", 329).text(tickLabelsA[i])
      .attr("font-family", "'Liberation Sans Narrow', " + RFONT).attr("font-size", 8.5)
      .attr("text-anchor", "middle").attr("fill", "#555");
  });
  p.vars.forEach((v, i) => {
    label(g, p.labelRight, y(v) + 6, v, 17.5, "end");
    const yy = y(v);
    g.append("line").attr("x1", x(p.lo[i])).attr("x2", x(p.hi[i])).attr("y1", yy).attr("y2", yy)
      .attr("stroke", "#F8766D").attr("stroke-width", 1.6);
    if (p.hi[i] > p.lo[i]) {
      [p.lo[i], p.hi[i]].forEach(e => g.append("line").attr("x1", x(e)).attr("x2", x(e))
        .attr("y1", yy - 3).attr("y2", yy + 3).attr("stroke", "#F8766D").attr("stroke-width", 1.4));
    }
    g.append("circle").attr("cx", x(p.mean[i])).attr("cy", yy).attr("r", 2.8).attr("fill", "#F8766D");
  });
  label(g, p.axisX, 348, "Relative Importance", 19, "middle");
});

// ===== B =====
function supText(g, x, y, before, sup, after, size, anchor, color) {
  const t = g.append("text").attr("x", x).attr("y", y)
    .attr("font-family", BOLD).attr("font-weight", 700).attr("font-size", size)
    .attr("text-anchor", anchor).attr("fill", color || "#000");
  t.append("tspan").text(before);
  t.append("tspan").attr("dy", -size * 0.38).attr("font-size", size * 0.6).text(sup);
  t.append("tspan").attr("dy", size * 0.38).text(after);
  return t;
}

const boxesB = [{l: 70, r: 292}, {l: 353, r: 576}, {l: 643.4, r: 857.3}, {l: 916.5, r: 1138.4}];
const xDomB = [[-1.081, 1.258], [-2.128, 1.318], [-2.118, 1.293], [-2.142, 1.287]];
const yDomB = [[-1.082, 1.251], [-2.135, 1.291], [-2.124, 1.287], [-2.135, 1.291]];
const ptsB = [ptsB1, ptsB2, ptsB3, ptsB4];
const topB = 372, botB = 592;

boxesB.forEach((b, k) => {
  const g = svg.append("g");
  const x = d3.scaleLog().domain(xDomB[k].map(v => Math.pow(10, v))).range([b.l, b.r]);
  const y = d3.scaleLog().domain(yDomB[k].map(v => Math.pow(10, v))).range([botB, topB]);
  const tv = k === 0 ? ticksB1 : ticksB;
  const tl = k === 0 ? tickLabelsB1 : tickLabelsB;

  const ax = g.append("g").attr("transform", `translate(0,${botB})`)
    .call(d3.axisBottom(x).tickValues(tv).tickFormat(d => tl[tv.indexOf(d)]).tickSize(5).tickPadding(6));
  const ay = g.append("g").attr("transform", `translate(${b.l},0)`)
    .call(d3.axisLeft(y).tickValues(tv).tickFormat(d => tl[tv.indexOf(d)]).tickSize(5));
  [ax, ay].forEach(a => {
    a.select(".domain").remove();
    a.selectAll("line").attr("stroke", AXC);
    a.selectAll("text").attr("font-family", RFONT).attr("font-size", 11).attr("fill", "#333");
  });
  ax.selectAll("text").attr("y", 17).attr("dy", "0.35em");
  ay.selectAll("text").attr("x", null).attr("dy", "0.35em").attr("text-anchor", "middle")
    .attr("transform", "translate(-21,0) rotate(-90)");

  g.selectAll("circle.pt").data(ptsB[k]).enter().append("circle")
    .attr("cx", d => x(d[0])).attr("cy", d => y(d[1])).attr("r", 2.7).attr("fill", "#000");

  // confidence band and fit line, drawn over the points
  const lx = fitPredB[k].map(Math.log10), ly = fitObsB[k].map(Math.log10);
  const [ciMid, ciEnd] = fitCiB[k];
  const band = d3.range(0, 1.0001, 0.05).map(t => {
    const lxv = lx[0] + t * (lx[1] - lx[0]);
    const lyv = ly[0] + t * (ly[1] - ly[0]);
    const h = Math.sqrt(ciMid * ciMid + (ciEnd * ciEnd - ciMid * ciMid) * (2 * t - 1) * (2 * t - 1));
    return {x: Math.pow(10, lxv), lo: Math.pow(10, lyv - h), hi: Math.pow(10, lyv + h), m: Math.pow(10, lyv)};
  });
  g.append("path").datum(band)
    .attr("d", d3.area().x(d => x(d.x)).y0(d => y(d.lo)).y1(d => y(d.hi)))
    .attr("fill", "#7ea9c6").attr("opacity", 0.92);
  g.append("path").datum(band)
    .attr("d", d3.line().x(d => x(d.x)).y(d => y(d.m)))
    .attr("fill", "none").attr("stroke", k === 3 ? "#5f87a3" : "#b3cfe1").attr("stroke-width", k === 3 ? 0.8 : 1.4)
    .attr("stroke-dasharray", k === 3 ? "2,2" : null);

  g.append("rect").attr("x", b.l).attr("y", topB).attr("width", b.r - b.l).attr("height", botB - topB)
    .attr("fill", "none").attr("stroke", AXC).attr("stroke-width", 1);

  supText(g, b.r - 4, botB - 11, "R", "2", "= " + r2B[k], 23, "end", "#e30613");

  const cx = (b.l + b.r) / 2 - 15;
  supText(g, cx, 638, "Predicted bean Cd (mg kg", "-1", ")", 21.3, "middle");
  const yl = supText(g, 0, 0, "Observed bean Cd (mg kg", "-1", ")", 21.3, "middle");
  yl.attr("transform", `translate(${b.l - 38},488) rotate(-90)`);
});

// ===== C =====
const colsC = [35, 175, 309, 450, 587, 732, 871, 1013];
const rowsC = [667, 690, 712, 735];
colsC.forEach((cx, i) => {
  const g = svg.append("g").attr("font-family", "Lato, 'Open Sans', sans-serif").attr("font-size", 16).attr("fill", "#111");
  g.append("text").attr("x", cx).attr("y", rowsC[0]).text(headC[i]);
  const t = g.append("text").attr("x", cx).attr("y", rowsC[1]);
  t.append("tspan").text("R");
  t.append("tspan").attr("dy", -6).attr("font-size", 10).text("2");
  t.append("tspan").attr("dy", 6).text(r2C[i]);
  g.append("text").attr("x", cx).attr("y", rowsC[2]).text("MAE=" + maeC[i]);
  g.append("text").attr("x", cx).attr("y", rowsC[3]).text("RMSE=" + rmseC[i]);
});

// ===== D =====
const leftD0 = 57.3, stepD = 185.15, wD = 145, hD = 139.5;
const topsD = [784.3, 1016, 1254.3, 1484];
const titleYD = [777, 1006, 1242, 1475];
const xTitleOffD = [48, 48, 47, 50];

topsD.forEach((T, r) => {
  label(svg, 35, titleYD[r], rowTitlesD[r], 33.7, "start", RED);
  const ylab = label(svg, 0, 0, "Marginal effect", 21, "middle");
  ylab.attr("transform", `translate(20,${T + hD / 2}) rotate(-90)`).attr("dy", "0.35em");

  axesD[r].forEach((a, c) => {
    const L = leftD0 + c * stepD;
    const g = svg.append("g");
    const x = d3.scaleLinear().domain(a.xd).range([L, L + wD]);
    const y = d3.scaleLinear().domain(a.yd).range([T + hD, T]);

    const ax = g.append("g").attr("transform", `translate(0,${T + hD})`)
      .call(d3.axisBottom(x).tickValues(a.xt).tickFormat(d => a.xl[a.xt.indexOf(d)]).tickSize(5));
    const ay = g.append("g").attr("transform", `translate(${L},0)`)
      .call(d3.axisLeft(y).tickValues(a.yt).tickFormat(d => a.yl[a.yt.indexOf(d)]).tickSize(5));
    [ax, ay].forEach(s => {
      s.select(".domain").remove();
      s.selectAll("line").attr("stroke", AXC);
      s.selectAll("text").attr("font-family", RFONT).attr("font-size", 11.5).attr("fill", "#333");
    });
    ax.selectAll("text").attr("y", 22).attr("dy", "0.35em");
    ay.selectAll("text").attr("x", null).attr("dy", "0.35em").attr("text-anchor", "middle")
      .attr("transform", "translate(-20,0) rotate(-90)");

    g.append("path").datum(curvesD[r][c])
      .attr("d", d3.line().x(d => x(d[0])).y(d => y(d[1])).curve(d3.curveMonotoneX))
      .attr("fill", "none").attr("stroke", "#0000ff").attr("stroke-width", 2.6)
      .attr("stroke-linejoin", "round");

    g.append("rect").attr("x", L).attr("y", T).attr("width", wD).attr("height", hD)
      .attr("fill", "none").attr("stroke", AXC).attr("stroke-width", 1);

    label(g, L + wD / 2, T + hD + xTitleOffD[r], namesD[r][c], r === 2 ? 19.5 : 20, "middle");
  });
});
</script>
</body>
</html>
